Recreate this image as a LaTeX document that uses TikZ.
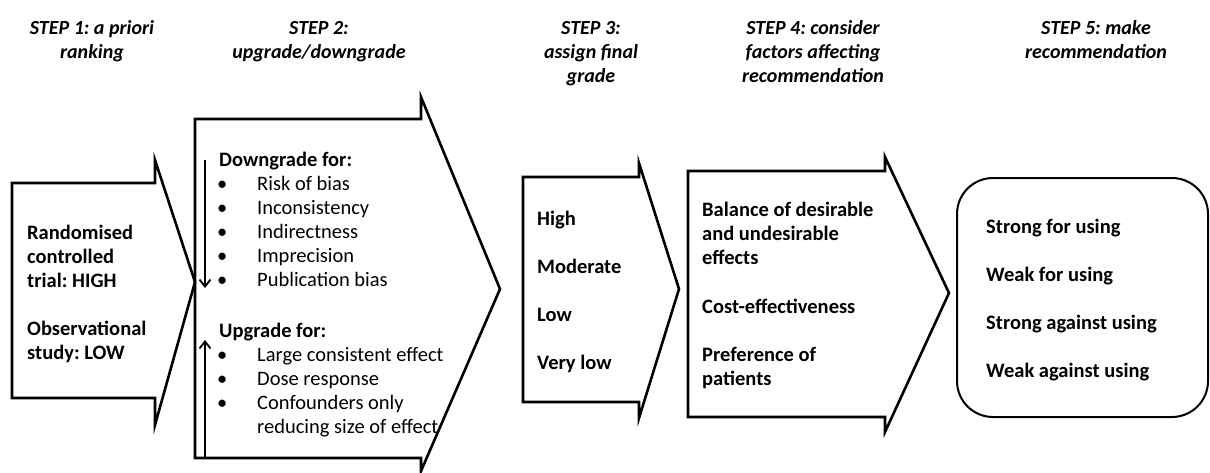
\documentclass[tikz,border=0pt]{standalone}
\usepackage{fontspec}
\setmainfont{Carlito}
\usetikzlibrary{arrows.meta}
\frenchspacing
\begin{document}
\begin{tikzpicture}[x=1pt,y=-1pt,
  arrowshape/.style={draw=black,line width=2.6pt,line join=miter},
  txt/.style={anchor=base west,inner sep=0pt,font=\fontsize{20.5}{24}\selectfont},
  btxt/.style={txt,font=\fontsize{20.5}{24}\selectfont\bfseries},
  ttl/.style={anchor=base,inner sep=0pt,font=\fontsize{20}{24}\selectfont\bfseries\itshape},
  flow/.style={line width=1.8pt,-{Straight Barb[length=7pt,width=11pt,line width=1.8pt]}}]
\useasboundingbox (0,0) rectangle (1210,472);
% titles
\node[ttl] (t1a) at (92,34) {STEP 1: a priori};
\node[ttl] (t1b) at (92,58) {ranking};
\node[ttl] (t2a) at (319,34) {STEP 2:};
\node[ttl] (t2b) at (319,58) {upgrade/downgrade};
\node[ttl] (t3a) at (591,34) {STEP 3:};
\node[ttl] (t3b) at (591,58) {assign final};
\node[ttl] (t3c) at (591,82) {grade};
\node[ttl] (t4a) at (813,34) {STEP 4: consider};
\node[ttl] (t4b) at (813,58) {factors affecting};
\node[ttl] (t4c) at (813,82) {recommendation};
\node[ttl] (t5a) at (1096,34) {STEP 5: make};
\node[ttl] (t5b) at (1096,58) {recommendation};
% arrow shapes
\draw[arrowshape] (12,183) -- (155,183) -- (155,160) -- (195,282) -- (155,425) -- (155,398) -- (12,398) -- cycle;
\draw[arrowshape] (195,119) -- (421,119) -- (421,97) -- (500,289) -- (421,471) -- (421,458) -- (195,458) -- cycle;
\draw[arrowshape] (523,177) -- (639,177) -- (639,163) -- (679,289) -- (639,418) -- (639,402) -- (523,402) -- cycle;
\draw[arrowshape] (688,171) -- (885,171) -- (885,157) -- (949,293) -- (885,432) -- (885,417) -- (688,417) -- cycle;
\draw[draw=black,line width=2pt,rounded corners=36pt] (957,178) rectangle (1208,417);
% step 1 text
\node[btxt] (s1a) at (27,239) {Randomised};
\node[btxt] (s1b) at (27,263) {controlled};
\node[btxt] (s1c) at (27,287) {trial: HIGH};
\node[btxt] (s1d) at (27,335) {Observational};
\node[btxt] (s1e) at (27,359) {study: LOW};
% step 2 text
\node[btxt] (dg) at (219,166) {Downgrade for:};
\foreach \t/\y/\n in {Risk of bias/190/d1,Inconsistency/214/d2,Indirectness/238/d3,Imprecision/262/d4,Publication bias/286/d5}{
  \node[txt] (\n b) at (217,\y) {\textbullet};
  \node[txt] (\n) at (257,\y) {\t};
}
\node[btxt] (ug) at (219,337) {Upgrade for:};
\foreach \t/\y/\n in {Large consistent effect/361/u1,Dose response/385/u2,Confounders only/409/u3}{
  \node[txt] (\n b) at (217,\y) {\textbullet};
  \node[txt] (\n) at (257,\y) {\t};
}
\node[txt] (u4) at (257,433) {reducing size of effect};
\coordinate (dtop) at (205,160);
\coordinate (dbot) at (205,288);
\coordinate (ubot) at (205,458);
\coordinate (utop) at (205,340);
\draw[flow] (dtop) -- (dbot);
\draw[flow] (ubot) -- (utop);
% step 3 text
\node[btxt] (g1) at (537,225) {High};
\node[btxt] (g2) at (537,273) {Moderate};
\node[btxt] (g3) at (537,321) {Low};
\node[btxt] (g4) at (537,369) {Very low};
% step 4 text
\node[btxt] (f1) at (702,216) {Balance of desirable};
\node[btxt] (f2) at (702,240) {and undesirable};
\node[btxt] (f3) at (702,264) {effects};
\node[btxt] (f4) at (702,313) {Cost-effectiveness};
\node[btxt] (f5) at (702,361) {Preference of};
\node[btxt] (f6) at (702,385) {patients};
% step 5 text
\node[btxt] (r1) at (986,233) {Strong for using};
\node[btxt] (r2) at (986,281) {Weak for using};
\node[btxt] (r3) at (986,329) {Strong against using};
\node[btxt] (r4) at (986,377) {Weak against using};
\end{tikzpicture}
\end{document}
